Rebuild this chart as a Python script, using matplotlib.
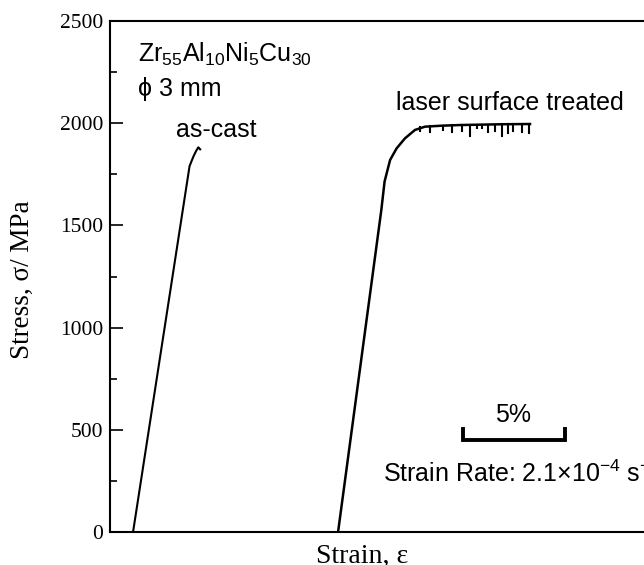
import matplotlib
matplotlib.use('Agg')
import matplotlib.pyplot as plt

matplotlib.rcParams['font.family'] = 'serif'
matplotlib.rcParams['font.serif'] = ['Liberation Serif']
matplotlib.rcParams['mathtext.fontset'] = 'custom'
matplotlib.rcParams['mathtext.rm'] = 'Liberation Sans'
matplotlib.rcParams['mathtext.it'] = 'Liberation Sans'

# strain in %, stress in MPa
ascast_strain = [1.13, 3.9, 4.08, 4.22, 4.33, 4.42]
ascast_stress = [0, 1790, 1835, 1864, 1882, 1872]

laser_strain = [11.18, 13.3, 13.46, 13.73, 14.05, 14.46, 14.95,
                15.44, 16.3, 17.16, 18.2, 19.3, 20.59]
laser_stress = [0, 1575, 1715, 1820, 1877, 1926, 1967,
                1983, 1988, 1991, 1993, 1995, 1996]

# serrations: strain, stress on the plateau, stress at the bottom of the drop
serr_strain = [15.2, 15.69, 16.32, 16.76, 17.24, 17.65, 17.98, 18.22,
               18.54, 18.87, 19.20, 19.52, 19.77, 20.18, 20.56]
serr_top = [1982, 1984, 1987, 1989, 1991, 1991, 1992, 1992,
            1993, 1993, 1994, 1994, 1995, 1995, 1996]
serr_bottom = [1962, 1958, 1965, 1955, 1962, 1935, 1975, 1975,
               1955, 1964, 1935, 1950, 1962, 1955, 1952]

fig = plt.figure(figsize=(6.44, 5.65), dpi=100)
ax = fig.add_axes([110/644, 33/565, 27*20.4/644, 511/565])

ax.plot(ascast_strain, ascast_stress, color='black', lw=1.5)
ax.plot(laser_strain, laser_stress, color='black', lw=1.8)
for s, t, b in zip(serr_strain, serr_top, serr_bottom):
    ax.plot([s, s], [t, b], color='black', lw=1.5)

ax.set_xlim(0, 27)
ax.set_ylim(0, 2500)
ax.set_yticks([0, 500, 1000, 1500, 2000, 2500])
ax.set_yticks([250, 750, 1250, 1750, 2250], minor=True)
ax.tick_params(axis='y', which='major', direction='in', length=9, width=1.2,
               labelsize=15.5, pad=5)
ax.tick_params(axis='y', which='minor', direction='in', length=5, width=1.2)
ax.set_xticks([])
for sp in ax.spines.values():
    sp.set_linewidth(1.5)

fig.text(22/644, 1 - 280/565, 'Stress, σ/ MPa', fontsize=19.5, rotation=90,
         ha='center', va='center')
fig.text(362/644, 1 - 563/565, 'Strain, ε', fontsize=20, ha='center', va='baseline')

sans = 'Liberation Sans'
ax.text(1.38, 2299, r'Zr$_{55}$Al$_{10}$Ni$_{5}$Cu$_{30}$', family=sans, fontsize=18)
ax.text(1.38, 2133, 'ϕ 3 mm', family=[sans, 'DejaVu Sans'], fontsize=18)
ax.text(5.2, 1932, 'as-cast', family=sans, fontsize=18, ha='center')
ax.text(19.6, 2064, 'laser surface treated', family=sans, fontsize=18, ha='center')

# 5% scale bar
ax.plot([17.3, 17.3, 22.3, 22.3], [504, 450, 450, 504], color='black', lw=2.8,
        solid_joinstyle='miter')
ax.text(19.75, 538, '5%', family=sans, fontsize=18, ha='center')
ax.text(13.38, 245, r'Strain Rate: 2.1×10$^{-4}$ s$^{-1}$', family=sans, fontsize=18)

fig.savefig('out.png', dpi=100)
